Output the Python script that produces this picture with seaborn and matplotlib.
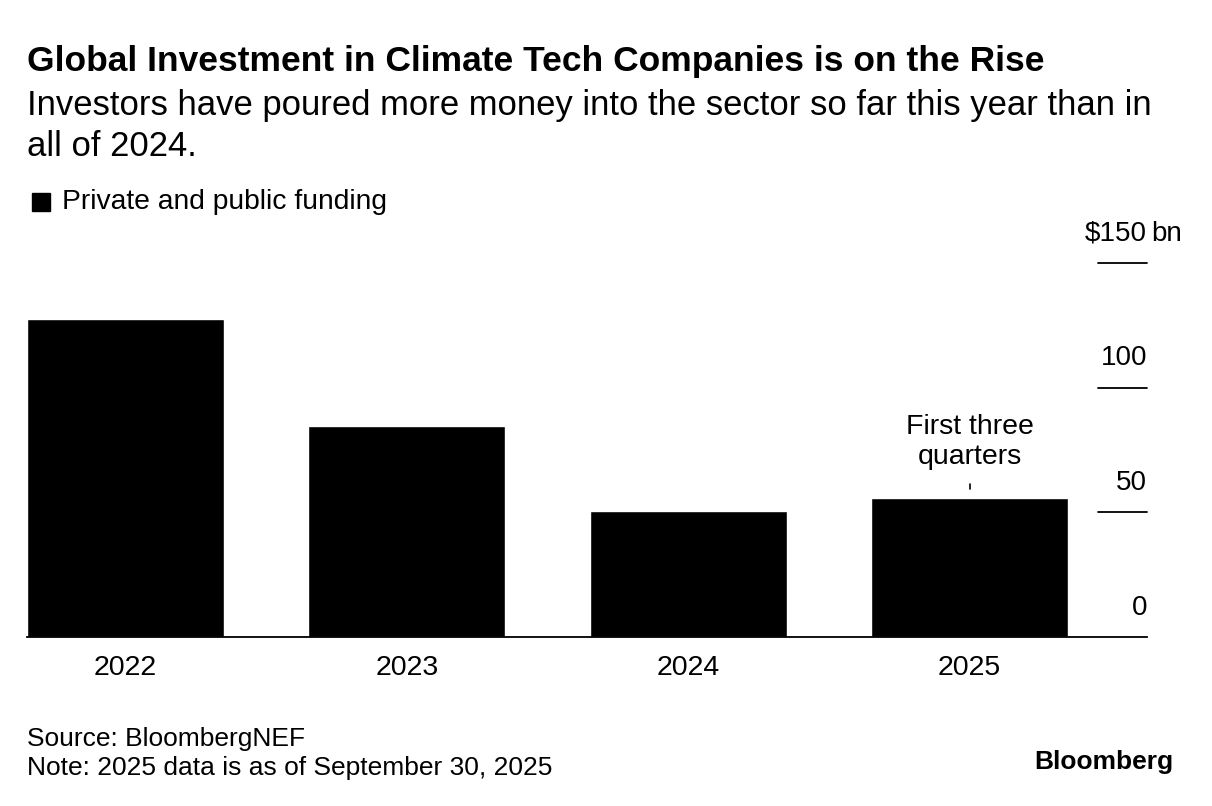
import matplotlib.pyplot as plt
import seaborn as sns
import pandas as pd
from matplotlib.transforms import blended_transform_factory

# Data ($bn)
years = ['2022', '2023', '2024', '2025']
funding = [127.6, 84.5, 50.4, 55.8]
y_ticks = [0, 50, 100, 150]
y_labels = ['0', '50', '100', '$150']

df = pd.DataFrame({'Year': years, 'Funding': funding})

sns.set_style('white')
plt.rcParams['font.family'] = ['Liberation Sans', 'DejaVu Sans']
plt.rcParams['text.color'] = 'black'
plt.rcParams['xtick.color'] = 'black'

W, H = 1212, 806
fig = plt.figure(figsize=(W / 100, H / 100), dpi=100)
ax = fig.add_axes([27 / W, 1 - 637 / H, (1147 - 27) / W, (637 - 263) / H])

sns.barplot(data=df, x='Year', y='Funding', color='black', width=0.7,
            saturation=1, ax=ax)

ax.set_xlim(-0.35, 3.63)
ax.set_ylim(0, 150)
for s in ['top', 'right', 'left']:
    ax.spines[s].set_visible(False)
ax.spines['bottom'].set_color('black')
ax.spines['bottom'].set_linewidth(1.3)
ax.set_xlabel('')
ax.set_ylabel('')
ax.set_yticks([])
ax.tick_params(axis='x', length=0, labelsize=20.5, labelcolor='black', pad=13)

# right-side gridline stubs and labels
tr = blended_transform_factory(ax.transAxes, ax.transData)
for v, lab in zip(y_ticks, y_labels):
    if v > 0:
        ax.plot([1 - 49 / 1120, 1.0], [v, v], color='black', lw=1.3,
                transform=tr, clip_on=False)
    ax.text(1.0, v + 6.5, lab, transform=tr, ha='right', va='bottom',
            fontsize=20)
ax.text(1.004, 156.5, 'bn', transform=tr, ha='left', va='bottom', fontsize=20)

# annotation for 2025
ax.text(3, 67, 'First three\nquarters', ha='center', va='bottom',
        fontsize=20.5, linespacing=1.2)
ax.plot([3, 3], [59.5, 61.5], color='black', lw=1.2)

# titles
fig.text(27 / W, 1 - 62 / H, 'Global Investment in Climate Tech Companies is on the Rise',
         fontsize=25.5, fontweight='bold', va='center', ha='left')
fig.text(27 / W, 1 - 126 / H,
         'Investors have poured more money into the sector so far this year than in\nall of 2024.',
         fontsize=24.9, va='center', ha='left', linespacing=1.33)

# legend
fig.patches.append(plt.Rectangle((32 / W, 1 - 211 / H), 18 / W, 18 / H,
                                 color='black', transform=fig.transFigure))
fig.text(62 / W, 1 - 202 / H, 'Private and public funding', fontsize=20.3,
         va='center', ha='left')

# footer
fig.text(27 / W, 1 - 739 / H, 'Source: BloombergNEF', fontsize=19,
         va='center', ha='left')
fig.text(27 / W, 1 - 768 / H, 'Note: 2025 data is as of September 30, 2025',
         fontsize=19, va='center', ha='left')
fig.text(1173 / W, 1 - 762 / H, 'Bloomberg', fontsize=19, fontweight='bold',
         va='center', ha='right')

fig.savefig('out.png', dpi=100)
